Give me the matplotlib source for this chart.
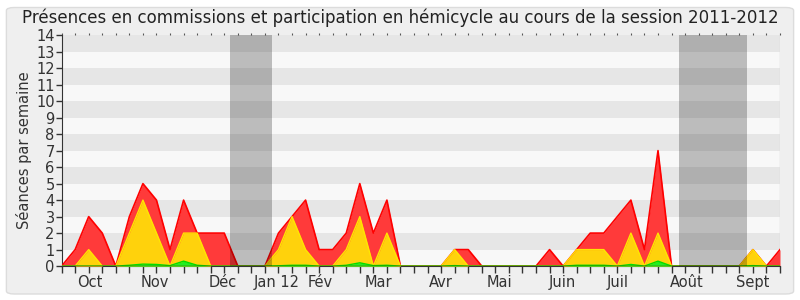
import numpy as np
import matplotlib.pyplot as plt
from matplotlib.patches import FancyBboxPatch
from matplotlib.transforms import blended_transform_factory

# weekly values, session 2011-2012 (week index 0..53)
semaines = np.arange(54)
hemicycle = [0, 1, 3, 2, 0, 3, 5, 4, 1, 4, 2, 2, 2, 0, 0, 0, 2, 3, 4, 1,
             1, 2, 5, 2, 4, 0, 0, 0, 0, 1, 1, 0, 0, 0, 0, 0, 1, 0, 1, 2,
             2, 3, 4, 1, 7, 0, 0, 0, 0, 0, 0, 1, 0, 1]
commissions = [0, 0, 1, 0, 0, 2, 4, 2, 0, 2, 2, 0, 0, 0, 0, 0, 1, 3, 1, 0,
               0, 1, 3, 0, 2, 0, 0, 0, 0, 1, 0, 0, 0, 0, 0, 0, 0, 0, 1, 1,
               1, 0, 2, 0, 2, 0, 0, 0, 0, 0, 0, 1, 0, 0]
presences = [0, 0, 0, 0, 0, 0.05, 0.12, 0.1, 0.03, 0.3, 0.05, 0, 0, 0, 0, 0, 0.02, 0.05, 0.05, 0,
             0, 0.05, 0.2, 0.03, 0.05, 0, 0, 0, 0, 0.03, 0, 0, 0, 0, 0, 0, 0, 0, 0.05, 0.05,
             0.05, 0, 0.1, 0, 0.3, 0, 0, 0, 0, 0, 0, 0.03, 0, 0]

vacances = [(12.45, 15.5), (45.55, 50.6)]
mois = ['Oct', 'Nov', 'Déc', 'Jan 12', 'Fév', 'Mar', 'Avr', 'Mai', 'Juin', 'Juil', 'Août', 'Sept']
mois_pos = [2.1, 6.9, 11.9, 15.9, 19.1, 23.4, 28.0, 32.3, 36.95, 41.0, 46.1, 51.0]

fig = plt.figure(figsize=(8, 3), dpi=100, facecolor='white')
fig.patches.append(FancyBboxPatch((0.008, 0.02), 0.984, 0.955, boxstyle='round,pad=0,rounding_size=0.01',
                                  transform=fig.transFigure, facecolor='#efefef', edgecolor='#dcdcdc',
                                  linewidth=1, zorder=-10))
ax = fig.add_axes([0.077, 0.113, 0.898, 0.77])
ax.set_facecolor('#f8f8f8')

# stripes
for k in range(1, 14, 2):
    ax.axhspan(k, k + 1, color='#e6e6e6', lw=0, zorder=0)

ax.fill_between(semaines, 0, hemicycle, color='#ff3a3a', lw=0, zorder=2)
ax.plot(semaines, hemicycle, color='#ff0000', lw=1.2, zorder=3)
ax.fill_between(semaines, 0, commissions, color='#ffd20c', lw=0, zorder=4)
ax.plot(semaines, commissions, color='#ffe600', lw=1, zorder=5)
ax.fill_between(semaines, 0, presences, color='#22ee22', lw=0, zorder=6)
ax.plot(semaines, presences, color='#00dd00', lw=1, zorder=7)
ax.plot(semaines, [0] * len(semaines), color='#6b1a00', lw=1, zorder=8)

for a, b in vacances:
    ax.axvspan(a, b, color='black', alpha=0.24, lw=0, zorder=9)

ax.set_xlim(0, 53)
ax.set_ylim(0, 14)
ax.set_yticks(range(15))
ax.set_xticks(semaines)
ax.set_xticklabels([])
ax.tick_params(axis='x', length=5, width=1, color='#333333')
ax.tick_params(axis='y', length=4, width=1, color='#333333', labelsize=10.5, pad=1, labelcolor='#333333')
for s in ['top', 'right']:
    ax.spines[s].set_visible(False)
ax.spines['left'].set_color('#333333')
ax.spines['bottom'].set_color('#333333')
ax.axvline(53, color='#d8d8d8', lw=1, zorder=1)

top = ax.secondary_xaxis('top')
top.set_xticks(semaines)
top.set_xticklabels([])
top.tick_params(length=1.2, width=0.8, color='#555555')
top.spines['top'].set_visible(False)

trans = blended_transform_factory(ax.transData, ax.transAxes)
for m, p in zip(mois, mois_pos):
    ax.text(p, -0.04, m, transform=trans, ha='center', va='top', fontsize=10.5, color='#333333')

ax.set_ylabel('Séances par semaine', fontsize=10.5, color='#333333', labelpad=3)
fig.text(0.5, 0.94, 'Présences en commissions et participation en hémicycle au cours de la session 2011-2012',
         ha='center', va='center', fontsize=12, color='#222222')

fig.savefig('out.png', dpi=100, facecolor=fig.get_facecolor())
